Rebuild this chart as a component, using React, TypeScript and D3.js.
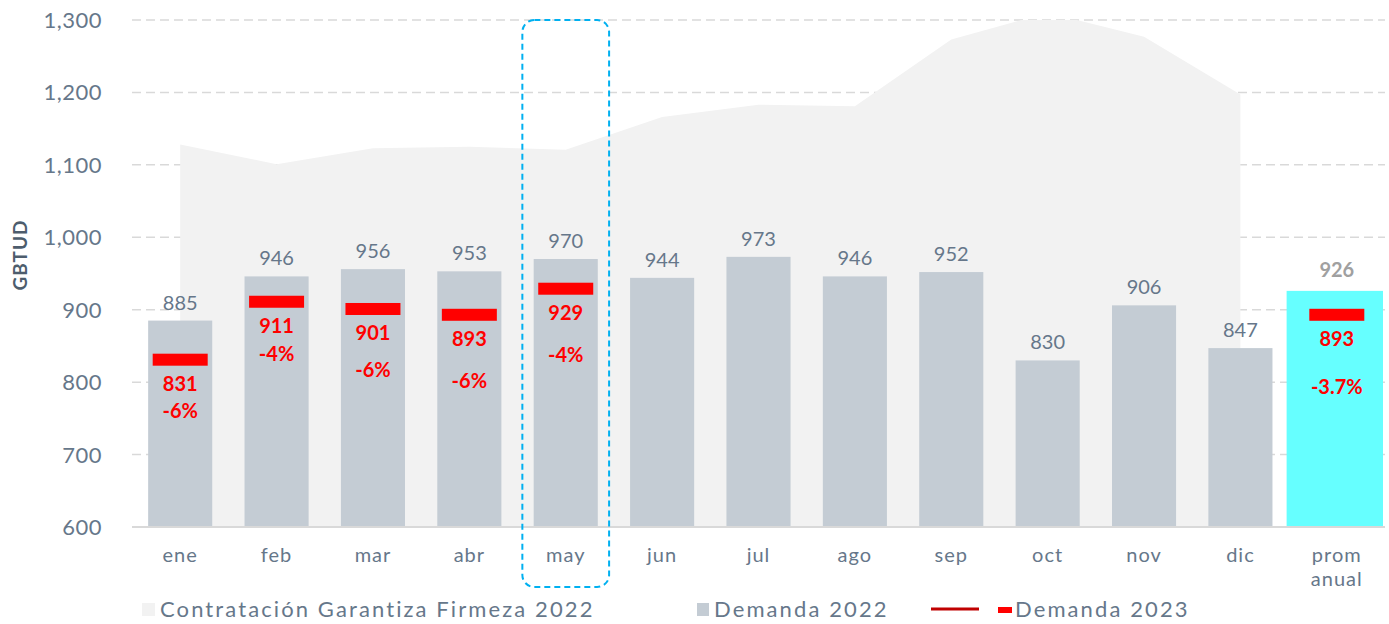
import { useEffect, useRef } from "react"
import * as d3 from "d3"

const months = ["ene", "feb", "mar", "abr", "may", "jun", "jul", "ago", "sep", "oct", "nov", "dic"]
const avgLabel = ["prom", "anual"]
const contratacion2022 = [1128, 1101, 1123, 1125, 1121, 1166, 1183, 1181, 1273, 1310, 1277, 1197]
const demanda2022 = [885, 946, 956, 953, 970, 944, 973, 946, 952, 830, 906, 847]
const demanda2023 = [831, 911, 901, 893, 929]
const variacion2023 = ["-6%", "-4%", "-6%", "-6%", "-4%"]
const promedio2022 = 926
const promedio2023 = 893
const promedioVariacion = "-3.7%"
const yTicks = [600, 700, 800, 900, 1000, 1100, 1200, 1300]

// layout tweaks: distance from red marker to the percent label
const pctGap = [51, 52, 61, 66, 66]
const promPctGap = 72

const FONT = "Lato, 'Open Sans', sans-serif"
const TEXT = "#66778a"

export default function App() {
  const svgRef = useRef<SVGSVGElement>(null)

  useEffect(() => {
    if (!svgRef.current) return
    d3.select(svgRef.current).selectAll("*").remove()

    const width = 1389
    const height = 624
    const margin = { top: 20, right: 4, bottom: 97, left: 132 }
    const innerWidth = width - margin.left - margin.right
    const innerHeight = height - margin.top - margin.bottom

    const cats = [...months, "prom"]
    const x = d3.scaleBand().domain(cats).range([0, innerWidth]).paddingInner(0).paddingOuter(0)
    const barW = x.bandwidth() * 0.665
    const cx = (c: string) => (x(c) || 0) + x.bandwidth() / 2

    const y = d3.scaleLinear().domain([600, 1300]).range([innerHeight, 0])

    const svg = d3.select(svgRef.current)
    svg.append("defs").append("clipPath").attr("id", "plot-clip")
      .append("rect").attr("x", 0).attr("y", 0).attr("width", innerWidth).attr("height", innerHeight)

    const g = svg.append("g").attr("transform", `translate(${margin.left},${margin.top})`)

    // gridlines
    g.append("g")
      .selectAll("line")
      .data(yTicks.slice(1))
      .enter()
      .append("line")
      .attr("x1", 0)
      .attr("x2", innerWidth)
      .attr("y1", (d) => y(d))
      .attr("y2", (d) => y(d))
      .attr("stroke", "#d9d9d9")
      .attr("stroke-width", 1.5)
      .attr("stroke-dasharray", "9,5")

    // area
    const area = d3
      .area<number>()
      .x((_, i) => cx(months[i]))
      .y0(y(600))
      .y1((d) => y(d))
    g.append("path")
      .datum(contratacion2022)
      .attr("d", area)
      .attr("fill", "#f2f2f2")
      .attr("clip-path", "url(#plot-clip)")

    // bars 2022
    g.selectAll(".bar")
      .data(demanda2022)
      .enter()
      .append("rect")
      .attr("x", (_, i) => cx(months[i]) - barW / 2)
      .attr("y", (d) => y(d))
      .attr("width", barW)
      .attr("height", (d) => innerHeight - y(d))
      .attr("fill", "#c4ccd4")

    g.selectAll(".barlabel")
      .data(demanda2022)
      .enter()
      .append("text")
      .attr("x", (_, i) => cx(months[i]))
      .attr("y", (d) => y(d) - 11)
      .attr("text-anchor", "middle")
      .style("font-family", FONT)
      .style("font-size", "20px")
      .attr("fill", TEXT)
      .text((d) => d)

    // average bar
    g.append("rect")
      .attr("x", (x("prom") || 0) - 2)
      .attr("y", y(promedio2022))
      .attr("width", x.bandwidth())
      .attr("height", innerHeight - y(promedio2022))
      .attr("fill", "#66ffff")
    g.append("text")
      .attr("x", cx("prom"))
      .attr("y", y(promedio2022) - 14)
      .attr("text-anchor", "middle")
      .style("font-family", FONT)
      .style("font-size", "20px")
      .style("font-weight", "bold")
      .attr("fill", "#a0a0a0")
      .text(promedio2022)

    // baseline
    g.append("line")
      .attr("x1", 0)
      .attr("x2", innerWidth)
      .attr("y1", innerHeight)
      .attr("y2", innerHeight)
      .attr("stroke", "#d9d9d9")
      .attr("stroke-width", 2)

    // 2023 markers
    const markW = 55
    const markH = 12
    const markers = demanda2023.map((v, i) => ({ c: months[i], v, pct: variacion2023[i], gap: pctGap[i] }))
    markers.push({ c: "prom", v: promedio2023, pct: promedioVariacion, gap: promPctGap })

    markers.forEach((m) => {
      g.append("rect")
        .attr("x", cx(m.c) - markW / 2)
        .attr("y", y(m.v) - markH / 2)
        .attr("width", markW)
        .attr("height", markH)
        .attr("fill", "#ff0000")
      g.append("text")
        .attr("x", cx(m.c))
        .attr("y", y(m.v) + 31)
        .attr("text-anchor", "middle")
        .style("font-family", FONT)
        .style("font-size", "20px")
        .style("font-weight", "bold")
        .attr("fill", "#ff0000")
        .text(m.v)
      g.append("text")
        .attr("x", cx(m.c))
        .attr("y", y(m.v) + m.gap + 7)
        .attr("text-anchor", "middle")
        .style("font-family", FONT)
        .style("font-size", "20px")
        .style("font-weight", "bold")
        .attr("fill", "#ff0000")
        .text(m.pct)
    })

    // y axis labels
    g.append("g")
      .selectAll("text")
      .data(yTicks)
      .enter()
      .append("text")
      .attr("x", -30)
      .attr("y", (d) => y(d) + 8)
      .attr("text-anchor", "end")
      .style("font-family", FONT)
      .style("font-size", "22px")
      .style("letter-spacing", "0.5px")
      .attr("fill", TEXT)
      .text((d) => d3.format(",")(d))

    svg.append("text")
      .attr("transform", `translate(27,255) rotate(-90)`)
      .attr("text-anchor", "middle")
      .style("font-family", FONT)
      .style("font-size", "19px")
      .style("font-weight", "bold")
      .style("letter-spacing", "1px")
      .attr("fill", "#4d5d6d")
      .text("GBTUD")

    // x axis labels
    g.append("g")
      .selectAll("text")
      .data(months)
      .enter()
      .append("text")
      .attr("x", (d) => cx(d))
      .attr("y", innerHeight + 35)
      .attr("text-anchor", "middle")
      .style("font-family", FONT)
      .style("font-size", "20px")
      .style("letter-spacing", "1px")
      .attr("fill", TEXT)
      .text((d) => d)
    avgLabel.forEach((t, i) => {
      g.append("text")
        .attr("x", cx("prom"))
        .attr("y", innerHeight + 35 + i * 24)
        .attr("text-anchor", "middle")
        .style("font-family", FONT)
        .style("font-size", "20px")
        .style("letter-spacing", "1px")
        .attr("fill", TEXT)
        .text(t)
    })

    // highlight box around may
    const hb = x.bandwidth() * 0.9
    g.append("rect")
      .attr("x", cx("may") - hb / 2)
      .attr("y", 0)
      .attr("width", hb)
      .attr("height", innerHeight + 60)
      .attr("rx", 12)
      .attr("fill", "none")
      .attr("stroke", "#00b0f0")
      .attr("stroke-width", 2)
      .attr("stroke-dasharray", "6,4")

    // legend
    const legStyle = (s: d3.Selection<SVGTextElement, unknown, null, undefined>) =>
      s.style("font-family", FONT).style("font-size", "22px").style("letter-spacing", "2.1px").attr("fill", TEXT)
    const leg = svg.append("g").attr("transform", "translate(0,609)")
    leg.append("rect").attr("x", 142).attr("y", -6).attr("width", 13).attr("height", 13).attr("fill", "#f2f2f2")
    leg.append("text").attr("x", 160).attr("y", 8).call(legStyle).text("Contratación Garantiza Firmeza 2022")
    leg.append("rect").attr("x", 697).attr("y", -6).attr("width", 12).attr("height", 13).attr("fill", "#c4ccd4")
    leg.append("text").attr("x", 714).attr("y", 8).call(legStyle).text("Demanda 2022")
    leg.append("line").attr("x1", 931).attr("x2", 979).attr("y1", 0).attr("y2", 0)
      .attr("stroke", "#c00000").attr("stroke-width", 3)
    leg.append("rect").attr("x", 998).attr("y", -2).attr("width", 14).attr("height", 6).attr("fill", "#ff0000")
    leg.append("text").attr("x", 1015).attr("y", 8).call(legStyle).text("Demanda 2023")
  }, [])

  return <svg ref={svgRef} width={1389} height={624} style={{ position: "absolute", left: 0, top: 0 }}></svg>
}
